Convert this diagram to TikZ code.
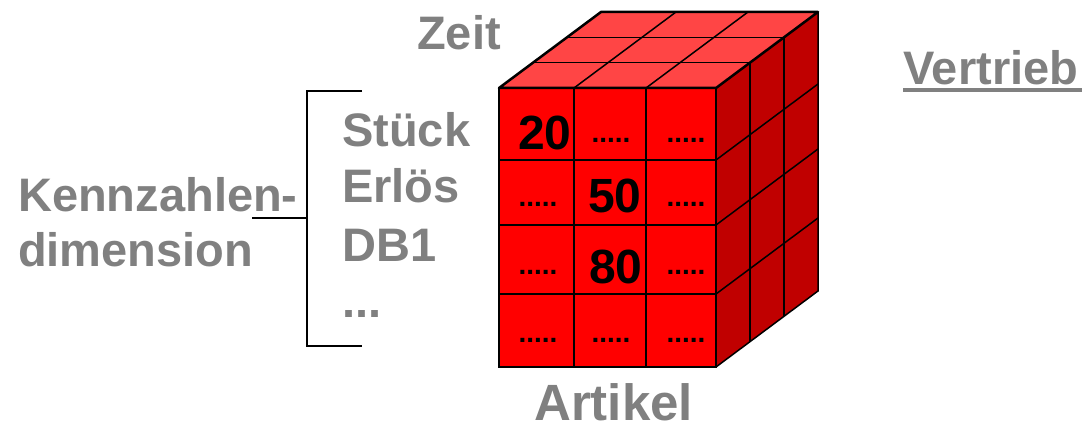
\documentclass[tikz,border=0pt]{standalone}
\usepackage{fontspec}
\setmainfont{Liberation Sans}
\definecolor{txtgray}{HTML}{808080}
\definecolor{frontred}{HTML}{FF0000}
\definecolor{topred}{HTML}{FF4545}
\definecolor{sidered}{HTML}{C00000}
\begin{document}
\begin{tikzpicture}[x=1pt,y=-1pt,
  lbl/.style={inner sep=0pt, anchor=base west, font=\fontsize{47}{50}\selectfont\bfseries, text=txtgray},
  num/.style={inner sep=0pt, anchor=base west, font=\fontsize{48}{50}\selectfont\bfseries, text=black},
  dotsnode/.style={inner sep=0pt, anchor=base, font=\fontsize{28}{30}\selectfont\bfseries, text=black},
  grid/.style={line width=1.5pt, black},
  edge/.style={line width=2.5pt, black, line join=round}]
\useasboundingbox (0,0) rectangle (1088,427);

% cube corners
\coordinate (ftl) at (499,88);
\coordinate (ftr) at (716,88);
\coordinate (fbr) at (716,367);
\coordinate (fbl) at (499,367);
\coordinate (btl) at (601,12);
\coordinate (btr) at (818,12);
\coordinate (bbr) at (818,291);

% top face
\fill[topred] (ftl) -- (ftr) -- (btr) -- (btl) -- cycle;
\draw[grid] (533,62.7) -- (750,62.7);
\draw[grid] (567,37.3) -- (784,37.3);
\draw[grid] (574,88) -- (676,12);
\draw[grid] (646,88) -- (748,12);

% right face
\fill[sidered] (ftr) -- (btr) -- (bbr) -- (fbr) -- cycle;
\draw[grid] (750,62.7) -- (750,341.7);
\draw[grid] (784,37.3) -- (784,316.3);
\draw[grid] (716,160) -- (818,84);
\draw[grid] (716,225) -- (818,149);
\draw[grid] (716,294) -- (818,218);
\draw[grid] (fbr) -- (bbr) -- (btr);

% front face
\fill[frontred] (ftl) rectangle (fbr);
\draw[grid] (574,88) -- (574,367);
\draw[grid] (646,88) -- (646,367);
\draw[grid] (499,160) -- (716,160);
\draw[grid] (499,225) -- (716,225);
\draw[grid] (499,294) -- (716,294);
\draw[line width=1.2pt, black] (ftl) rectangle (fbr);
\draw[edge] (ftl) -- (ftr) -- (btr) -- (btl) -- cycle;

% cell contents
\node[num] (n20) at (518,150) {20};
\node[num] (n50) at (588,213) {50};
\node[num] (n80) at (589,284) {80};
\node[dotsnode] (d12) at (611,143) {.....};
\node[dotsnode] (d13) at (686,143) {.....};
\node[dotsnode] (d21) at (538,207) {.....};
\node[dotsnode] (d23) at (686,207) {.....};
\node[dotsnode] (d31) at (538,275) {.....};
\node[dotsnode] (d33) at (686,275) {.....};
\node[dotsnode] (d41) at (538,343) {.....};
\node[dotsnode] (d42) at (611,343) {.....};
\node[dotsnode] (d43) at (686,343) {.....};

% labels
\node[lbl] (zeit) at (417,50) {Zeit};
\node[lbl] (vertrieb) at (903,85) {Vertrieb};
\draw[txtgray, line width=4pt] (903,90.5) -- (1082,90.5);
\node[lbl] (kz) at (18,212) {Kennzahlen-};
\node[lbl] (dim) at (18,267) {dimension};
\node[lbl] (stueck) at (342,147) {Stück};
\node[lbl] (erloes) at (342,203) {Erlös};
\node[lbl] (db1) at (342,262) {DB1};
\node[lbl] (more) at (342,318) {...};
\node[lbl, font=\fontsize{51}{54}\selectfont\bfseries] (artikel) at (534,421) {Artikel};

% bracket
\coordinate (brt) at (362,91);
\coordinate (brtl) at (307,91);
\coordinate (brbl) at (307,346);
\coordinate (brb) at (362,346);
\coordinate (brm) at (307,218);
\coordinate (brs) at (252,218);
\draw[line width=2pt, black] (brt) -- (brtl) -- (brbl) -- (brb);
\draw[line width=2pt, black] (brs) -- (brm);
\end{tikzpicture}
\end{document}
